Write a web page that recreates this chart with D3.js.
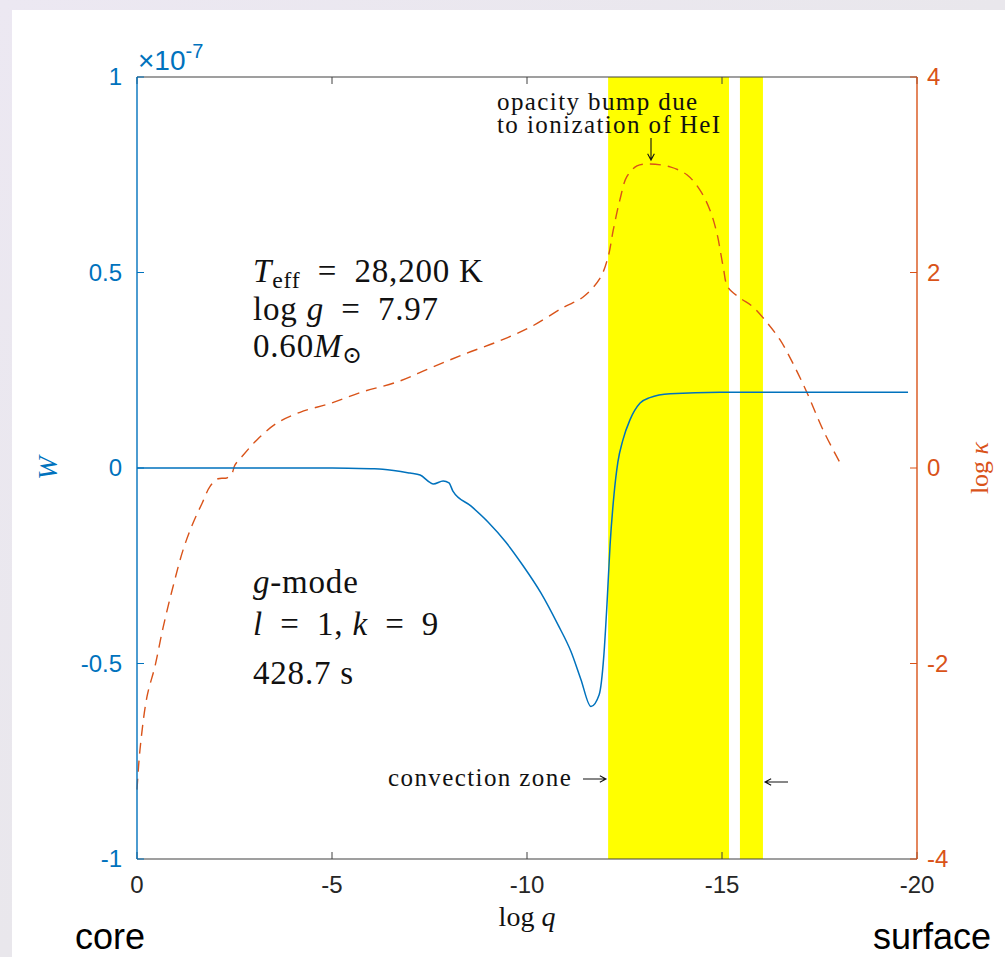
<!DOCTYPE html>
<html>
<head>
<meta charset="utf-8">
<title>W and log kappa vs log q</title>
<script src="https://cdn.jsdelivr.net/npm/d3@7"></script>
<style>
html, body { margin: 0; padding: 0; }
body { width: 1005px; height: 957px; overflow: hidden; }
.serif { font-family: "Liberation Serif", "DejaVu Serif", serif; }
.sans { font-family: "Liberation Sans", Arial, Helvetica, sans-serif; }
</style>
</head>
<body>
<svg id="chart" width="1005" height="957"></svg>
<script>
// data
var xTicks = [0, -5, -10, -15, -20];
var wTicks = [-1, -0.5, 0, 0.5, 1];
var wTickLabels = ["-1", "-0.5", "0", "0.5", "1"];
var kTicks = [-4, -2, 0, 2, 4];

// convection zones (log q)
var zones = [[-12.08, -15.18], [-15.46, -16.05]];

// work function W (units of 1e-7)
var wLogq = [0, -3, -5, -6, -6.3, -7.0, -7.26, -7.5, -7.6, -7.85, -8.0, -8.1, -8.56, -9.0, -9.46, -9.9,
  -10.36, -10.79, -11.13, -11.38, -11.64, -11.85, -11.97, -12.05, -12.13, -12.23, -12.33, -12.46,
  -12.64, -12.9, -13.15, -13.67, -14.95, -19.77];
var wVal = [0, 0, 0, -0.002, -0.003, -0.013, -0.018, -0.036, -0.041, -0.033, -0.038, -0.059, -0.097, -0.138, -0.19, -0.25,
  -0.32, -0.40, -0.47, -0.54, -0.61, -0.58, -0.48, -0.35, -0.197, -0.069, 0.015, 0.072,
  0.123, 0.166, 0.18, 0.19, 0.194, 0.194];

// opacity log kappa
var kLogq = [0, -0.077, -0.256, -0.46, -0.67, -0.92, -1.18, -1.44, -1.67, -1.87, -2.08, -2.31, -2.44, -2.51,
  -2.72, -3.08, -3.59, -4.18, -4.95, -5.79, -6.67, -7.51, -8.36, -9.23, -10.08, -10.92, -11.44, -11.87,
  -12.08, -12.21, -12.38, -12.56, -12.82, -13.15, -13.67, -14.10, -14.44, -14.69, -14.87, -15.03, -15.15,
  -15.46, -15.79, -16.15, -16.49, -16.82, -17.18, -17.59, -18.03];
var kVal = [-3.29, -2.88, -2.34, -2.03, -1.63, -1.22, -0.84, -0.56, -0.36, -0.19, -0.11, -0.10, -0.05, 0.03,
  0.13, 0.29, 0.46, 0.57, 0.66, 0.78, 0.88, 1.02, 1.16, 1.29, 1.44, 1.64, 1.75, 1.94,
  2.16, 2.43, 2.74, 2.98, 3.09, 3.11, 3.08, 3.00, 2.84, 2.64, 2.40, 2.06, 1.85,
  1.74, 1.65, 1.49, 1.31, 1.07, 0.77, 0.39, 0.05];

var blue = "#0072BD", red = "#D95319", axisGray = "#404040";
var pLeft = 137, pRight = 917, pTop = 77, pBottom = 859;

var svg = d3.select("#chart");

// page background with white panel
var grad = svg.append("defs").append("linearGradient").attr("id", "bg")
  .attr("x1", 0).attr("y1", 0).attr("x2", 1).attr("y2", 1);
grad.append("stop").attr("offset", "0%").attr("stop-color", "#ece8f2");
grad.append("stop").attr("offset", "100%").attr("stop-color", "#e6e6e6");
svg.append("rect").attr("width", 1005).attr("height", 957).attr("fill", "url(#bg)");
svg.append("rect").attr("x", 12).attr("y", 10).attr("width", 993).attr("height", 947).attr("fill", "#fff");

var x = d3.scaleLinear().domain([0, -20]).range([pLeft, pRight]);
var yW = d3.scaleLinear().domain([-1, 1]).range([pBottom, pTop]);
var yK = d3.scaleLinear().domain([-4, 4]).range([pBottom, pTop]);

// yellow convection zones
svg.append("g").selectAll("rect").data(zones).join("rect")
  .attr("x", d => x(d[0]))
  .attr("width", d => x(d[1]) - x(d[0]))
  .attr("y", pTop).attr("height", pBottom - pTop)
  .attr("fill", "#ffff00");

// curves
var wData = wLogq.map((q, i) => [q, wVal[i]]);
var kData = kLogq.map((q, i) => [q, kVal[i]]);

svg.append("path").datum(kData)
  .attr("fill", "none").attr("stroke", red).attr("stroke-width", 1.4)
  .attr("stroke-dasharray", "11,7")
  .attr("d", d3.line().x(d => x(d[0])).y(d => yK(d[1])).curve(d3.curveCatmullRom));

svg.append("path").datum(wData)
  .attr("fill", "none").attr("stroke", blue).attr("stroke-width", 1.5)
  .attr("d", d3.line().x(d => x(d[0])).y(d => yW(d[1])).curve(d3.curveMonotoneX));

// axes
var tl = 7;
var fs = 24;
svg.append("line").attr("x1", pLeft).attr("x2", pRight).attr("y1", pTop).attr("y2", pTop)
  .attr("stroke", axisGray).attr("stroke-width", 1.2);
svg.append("line").attr("x1", pLeft).attr("x2", pRight).attr("y1", pBottom).attr("y2", pBottom)
  .attr("stroke", axisGray).attr("stroke-width", 1.2);

var xt = svg.append("g").attr("class", "sans");
xTicks.forEach(function(t) {
  xt.append("line").attr("x1", x(t)).attr("x2", x(t)).attr("y1", pBottom).attr("y2", pBottom - tl)
    .attr("stroke", axisGray).attr("stroke-width", 1);
  xt.append("line").attr("x1", x(t)).attr("x2", x(t)).attr("y1", pTop).attr("y2", pTop + tl)
    .attr("stroke", axisGray).attr("stroke-width", 1);
  xt.append("text").attr("x", x(t)).attr("y", pBottom + 34).attr("text-anchor", "middle")
    .attr("font-size", fs).attr("fill", "#262626").text(t);
});

// left axis (W)
svg.append("line").attr("x1", pLeft).attr("x2", pLeft).attr("y1", pTop).attr("y2", pBottom)
  .attr("stroke", blue).attr("stroke-width", 1.4);
var lt = svg.append("g").attr("class", "sans");
wTicks.forEach(function(t, i) {
  lt.append("line").attr("x1", pLeft).attr("x2", pLeft + tl).attr("y1", yW(t)).attr("y2", yW(t))
    .attr("stroke", blue).attr("stroke-width", 1);
  lt.append("text").attr("x", pLeft - 15).attr("y", yW(t) + 8).attr("text-anchor", "end")
    .attr("font-size", fs).attr("fill", blue).text(wTickLabels[i]);
});
var ex = lt.append("text").attr("x", pLeft + 1).attr("y", 70).attr("font-size", 28).attr("fill", blue);
ex.append("tspan").text("\u00d710");
ex.append("tspan").attr("dy", -12).attr("font-size", 20).text("-7");

// right axis (log kappa)
svg.append("line").attr("x1", pRight).attr("x2", pRight).attr("y1", pTop).attr("y2", pBottom)
  .attr("stroke", red).attr("stroke-width", 1.4);
var rt = svg.append("g").attr("class", "sans");
kTicks.forEach(function(t) {
  rt.append("line").attr("x1", pRight).attr("x2", pRight - tl).attr("y1", yK(t)).attr("y2", yK(t))
    .attr("stroke", red).attr("stroke-width", 1);
  rt.append("text").attr("x", pRight + 10).attr("y", yK(t) + 8)
    .attr("font-size", fs).attr("fill", red).text(t);
});

// axis labels
var serifG = svg.append("g").attr("class", "serif").attr("fill", "#111");
serifG.append("text").attr("transform", "translate(57,468) rotate(-90)").attr("text-anchor", "middle")
  .attr("font-size", 28).attr("font-style", "italic").attr("fill", blue).text("W");
var kl = serifG.append("text").attr("transform", "translate(988,468) rotate(-90)").attr("text-anchor", "middle")
  .attr("font-size", 26).attr("fill", red);
kl.append("tspan").text("log ");
kl.append("tspan").attr("font-style", "italic").text("\u03ba");
var ql = serifG.append("text").attr("x", (pLeft + pRight) / 2).attr("y", 926).attr("text-anchor", "middle")
  .attr("font-size", 28);
ql.append("tspan").text("log ");
ql.append("tspan").attr("font-style", "italic").text("q");

svg.append("text").attr("class", "sans").attr("x", 75).attr("y", 949).attr("font-size", 36)
  .attr("fill", "#000").text("core");
svg.append("text").attr("class", "sans").attr("x", 991).attr("y", 949).attr("font-size", 36)
  .attr("text-anchor", "end").attr("fill", "#000").text("surface");

// annotations
var af = 33;
var eq = "\u2002=\u2002";
function mathLine(g, xPos, yPos, parts, size, ls) {
  var t = g.append("text").attr("x", xPos).attr("y", yPos).attr("font-size", size)
    .attr("letter-spacing", ls || 0);
  parts.forEach(function(p) {
    var s = t.append("tspan").text(p.t);
    if (p.i) s.attr("font-style", "italic");
    if (p.small) s.attr("font-size", size * 0.72);
    if (p.dy) s.attr("dy", p.dy);
  });
  return t;
}
mathLine(serifG, 253, 282, [{t: "T", i: 1}, {t: "eff", small: 1, dy: 6}, {t: eq + "28,200 K", dy: -6}], af, 0.8);
mathLine(serifG, 253, 320, [{t: "log "}, {t: "g", i: 1}, {t: eq + "7.97"}], af, 0.8);
mathLine(serifG, 253, 357, [{t: "0.60"}, {t: "M", i: 1}, {t: "\u2299", small: 1, dy: 6}], af, 0.8);
mathLine(serifG, 253, 593, [{t: "g", i: 1}, {t: "-mode"}], af, 0.8);
mathLine(serifG, 253, 635, [{t: "l", i: 1}, {t: eq + "1, "}, {t: "k", i: 1}, {t: eq + "9"}], af, 0.8);
mathLine(serifG, 253, 684, [{t: "428.7 s"}], af, 0.8);

mathLine(serifG, 497, 110, [{t: "opacity bump due"}], 25, 1.4);
mathLine(serifG, 497, 133, [{t: "to ionization of HeI"}], 25, 1.4);
mathLine(serifG, 388, 786, [{t: "convection zone"}], 25, 1.4);

// thin arrows in the style of the LaTeX ones
function arrow(x1, y1, x2, y2) {
  var a = Math.atan2(y2 - y1, x2 - x1), h = 7, s = 0.5;
  var p = d3.path();
  p.moveTo(x1, y1); p.lineTo(x2, y2);
  p.moveTo(x2 - h * Math.cos(a - s), y2 - h * Math.sin(a - s));
  p.lineTo(x2, y2);
  p.lineTo(x2 - h * Math.cos(a + s), y2 - h * Math.sin(a + s));
  svg.append("path").attr("d", p.toString()).attr("fill", "none")
    .attr("stroke", "#111").attr("stroke-width", 1.1);
}
arrow(651, 138, 651, 160);
arrow(583, 779, 606, 779);
arrow(788, 782, 765, 782);
</script>
</body>
</html>
